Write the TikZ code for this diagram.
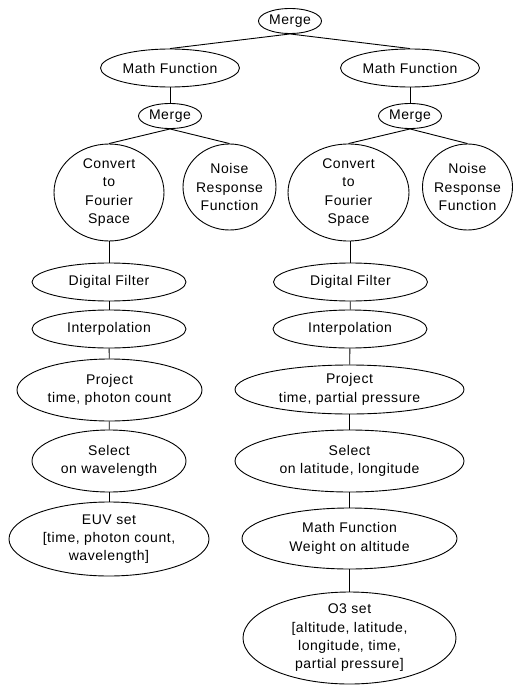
\documentclass[tikz,border=0pt]{standalone}
\usepackage{fontspec}
\setmainfont{Liberation Sans}[LetterSpace=4]
\usetikzlibrary{shapes.geometric}

\tikzset{
  bub/.style n args={2}{ellipse, draw=black, line width=0.9pt,
    minimum width=#1, minimum height=#2, inner sep=0pt},
  txt/.style={align=center, inner sep=0pt,
    font=\fontsize{14}{18.3}\selectfont},
  link/.style={draw=black, line width=0.9pt}
}

\begin{document}
\begin{tikzpicture}[x=1pt, y=-1pt]
  \useasboundingbox (0,0) rectangle (513,685);

  % top level
  \node[bub={63pt}{25pt}, label={[txt]center:Merge}] (top) at (290,21) {};

  % left branch
  \node[bub={139pt}{38pt}, label={[txt]center:Math Function}] (mfL) at (170,68) {};
  \node[bub={63pt}{25pt}, label={[txt]center:Merge}] (mgL) at (170,116) {};
  \node[bub={110pt}{97pt}, label={[txt]center:Convert\\to\\Fourier\\Space}] (cvL) at (109,192.5) {};
  \node[bub={93pt}{86pt}, label={[txt]center:Noise\\Response\\Function}] (nsL) at (229.5,187) {};
  \node[bub={154pt}{38pt}, label={[txt]center:Digital Filter}] (dfL) at (109,282) {};
  \node[bub={154pt}{38pt}, label={[txt]center:Interpolation}] (ipL) at (109,329) {};
  \node[bub={185pt}{62pt}, label={[txt]center:Project\\time, photon count}] (prL) at (109.5,390) {};
  \node[bub={154pt}{62pt}, label={[txt]center:Select\\on wavelength}] (slL) at (109,461) {};
  \node[bub={200pt}{74pt}, label={[txt]center:EUV set\\{[time, photon count,}\\wavelength]}] (euv) at (109,539) {};

  % right branch
  \node[bub={139pt}{38pt}, label={[txt]center:Math Function}] (mfR) at (410,68) {};
  \node[bub={63pt}{25pt}, label={[txt]center:Merge}] (mgR) at (410,116) {};
  \node[bub={121pt}{97pt}, label={[txt]center:Convert\\to\\Fourier\\Space}] (cvR) at (348.5,192.5) {};
  \node[bub={90pt}{86pt}, label={[txt]center:Noise\\Response\\Function}] (nsR) at (467.5,187) {};
  \node[bub={154pt}{38pt}, label={[txt]center:Digital Filter}] (dfR) at (350.5,282) {};
  \node[bub={154pt}{38pt}, label={[txt]center:Interpolation}] (ipR) at (350,329) {};
  \node[bub={229pt}{49pt}, label={[txt]center:Project\\time, partial pressure}] (prR) at (349.5,389.5) {};
  \node[bub={229pt}{62pt}, label={[txt]center:Select\\on latitude, longitude}] (slR) at (349.5,461) {};
  \node[bub={215pt}{61pt}, label={[txt]center:Math Function\\Weight on altitude}] (mwR) at (349.5,538.5) {};
  \node[bub={213pt}{92pt}, label={[txt]center:O3 set\\{[altitude, latitude,}\\longitude, time,\\partial pressure]}] (o3) at (349.5,638) {};

  % connectors
  \path[link] (top.south) -- (mfL.north);
  \path[link] (top.south) -- (mfR.north);
  \path[link] (mfL) -- (mgL);
  \path[link] (mfR) -- (mgR);
  \path[link] (mgL.south) -- (cvL.north);
  \path[link] (mgL.south) -- (nsL.north);
  \path[link] (mgR.south) -- (cvR.north);
  \path[link] (mgR.south) -- (nsR.north);
  \path[link] (cvL.south) -- (cvL.south |- dfL.north);
  \path[link] (dfL) -- (ipL);
  \path[link] (ipL) -- (prL);
  \path[link] (prL) -- (slL);
  \path[link] (slL) -- (euv);
  \path[link] (cvR.south -| dfR.north) -- (dfR.north);
  \path[link] (dfR) -- (ipR);
  \path[link] (ipR) -- (prR);
  \path[link] (prR) -- (slR);
  \path[link] (slR) -- (mwR);
  \path[link] (mwR) -- (o3);
\end{tikzpicture}
\end{document}
